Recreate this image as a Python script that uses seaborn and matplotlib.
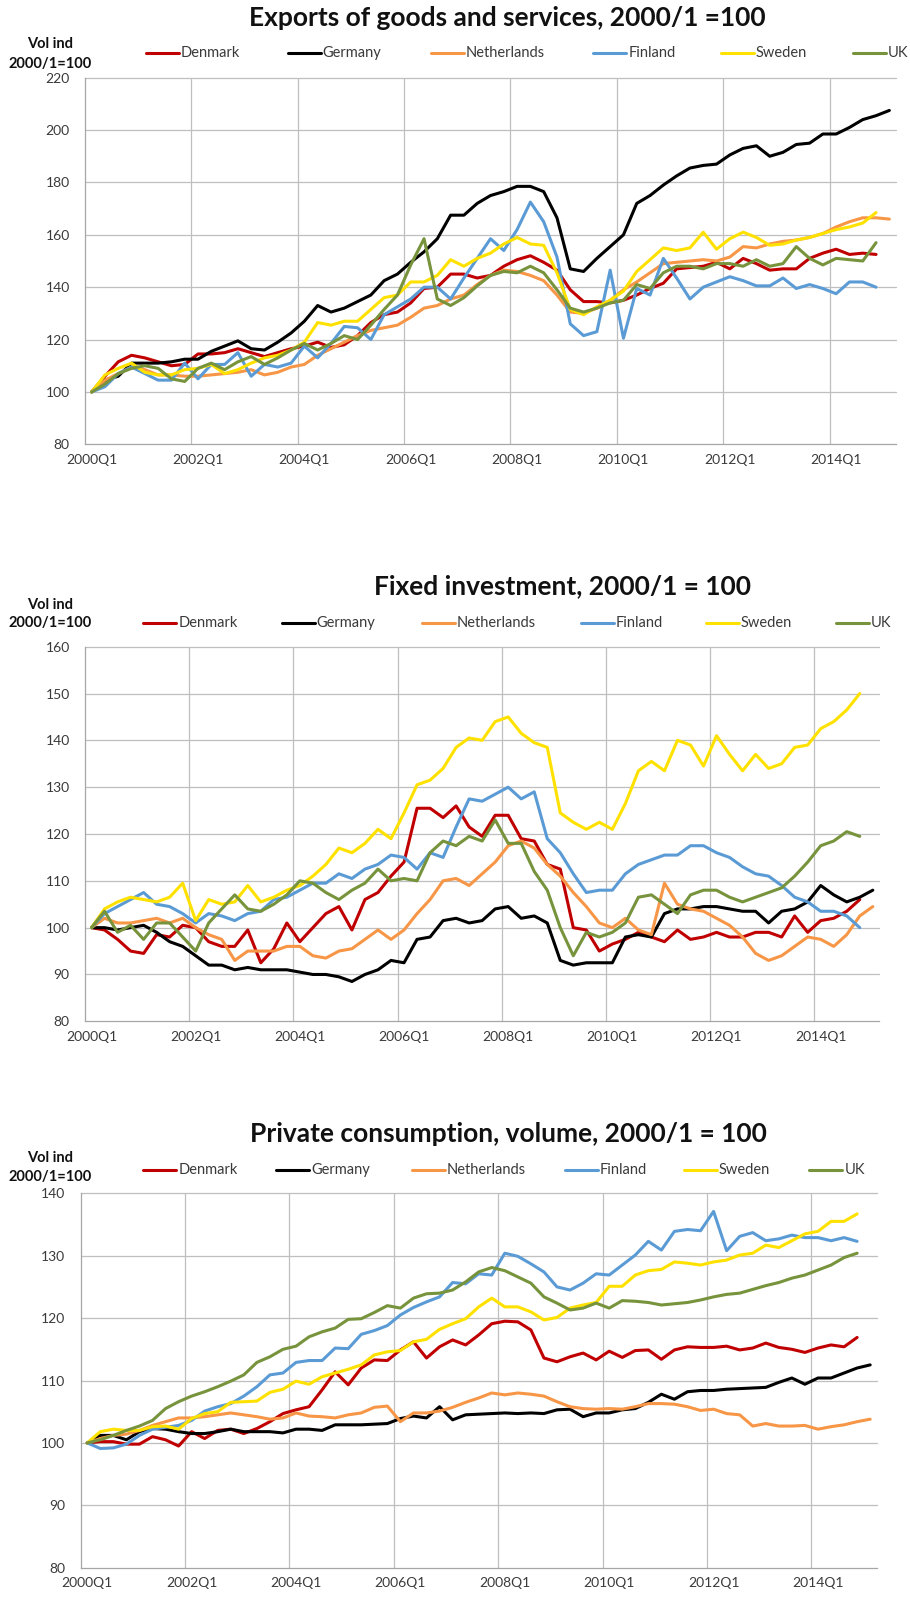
import matplotlib
matplotlib.use("Agg")
import matplotlib.pyplot as plt
import numpy as np
import pandas as pd
import seaborn as sns
from matplotlib.lines import Line2D

W, H = 910, 1599

COUNTRIES = ["Denmark", "Germany", "Netherlands", "Finland", "Sweden", "UK"]
PALETTE = {
    "Denmark": "#C00000",
    "Germany": "#000000",
    "Netherlands": "#F79646",
    "Finland": "#5B9BD5",
    "Sweden": "#FFE100",
    "UK": "#77933C",
}

QUARTERS = [f"{y}Q{q}" for y in range(2000, 2016) for q in range(1, 5)][:61]

# --- Exports of goods and services, 2000/1 = 100
EXP_DENMARK = [100, 106, 111.5, 114, 113, 111.5, 110, 110.5, 114.5, 114.5,
               115, 116.5, 115, 113.5, 115, 116.5, 117.5, 119, 117, 118,
               121.5, 126.5, 129.5, 130.5, 134, 139.5, 140, 145, 145, 143.5,
               144.5, 148, 150.5, 152, 149.5, 146.5, 139, 134.5, 134.5, 134,
               135, 137, 139.5, 141.5, 147, 147.5, 148, 149.5, 147, 151,
               149, 146.5, 147, 147, 151, 153, 154.5, 152.5, 153, 152.5]
EXP_GERMANY = [100, 104.5, 106, 111, 111, 111, 111.5, 112.5, 112.5, 115.5,
               117.5, 119.5, 116.5, 116, 119, 122.5, 127, 133, 130.5, 132,
               134.5, 137, 142.5, 145, 149.5, 153.5, 158.5, 167.5, 167.5, 172,
               175, 176.5, 178.5, 178.5, 176.5, 166.5, 147, 146, 151, 155.5,
               160, 172, 175, 179, 182.5, 185.5, 186.5, 187, 190.5, 193,
               194, 190, 191.5, 194.5, 195, 198.5, 198.5, 201, 204, 205.5,
               207.5]
EXP_NETHERLANDS = [100, 104.5, 107, 109.5, 108.5, 106.5, 106.5, 106, 106, 106.5,
                   107, 107.5, 108.5, 106.5, 107.5, 109.5, 110.5, 114, 116.5, 119,
                   121.5, 123.5, 124.5, 125.5, 128.5, 132, 133, 135.5, 137, 141,
                   144.5, 146.5, 146, 144.5, 142.5, 137, 130.5, 130, 132, 135,
                   139, 142, 145.5, 149, 149.5, 150, 150.5, 150, 151.5, 155.5,
                   155, 156.5, 157.5, 158, 159, 160.5, 163, 165, 166.5, 166.5,
                   166]
EXP_FINLAND = [100, 102, 107, 109.5, 107, 104.5, 104.5, 111, 105, 110.5,
               110.5, 115, 106, 110.5, 109.5, 111, 117.5, 113, 118.5, 125,
               124.5, 120, 129.5, 132.5, 135.5, 140, 140, 135.5, 143.5, 151,
               158.5, 154, 162, 172.5, 165, 151.5, 126, 121.5, 123, 146.5,
               120.5, 139.5, 137, 151, 143.5, 135.5, 140, 142, 144, 142.5,
               140.5, 140.5, 143.5, 139.5, 141, 139.5, 137.5, 142, 142, 140]
EXP_SWEDEN = [100, 106.5, 109, 111, 107.5, 106.5, 106.5, 108.5, 109, 110.5,
              107, 108.5, 111, 113, 114, 116, 119, 126.5, 125.5, 127,
              127, 131.5, 136, 137, 142, 142, 144.5, 150.5, 148, 151,
              153, 156.5, 159, 156.5, 156, 145.5, 131.5, 129.5, 132.5, 135,
              138.5, 146, 150.5, 155, 154, 155, 161, 154.5, 158.5, 161,
              159, 156, 156.5, 158, 159, 160.5, 162, 163, 164.5, 168.5]
EXP_UK = [100, 103, 107, 109, 110, 109, 105, 104, 109, 111,
          108.5, 111.5, 113.5, 110.5, 113, 116, 118.5, 116, 118.5, 121.5,
          120, 125.5, 131.5, 137, 148.5, 158.5, 135.5, 133, 136, 140.5,
          144.5, 146, 145.5, 148, 145.5, 139, 132, 130.5, 132, 134,
          135, 141, 139.5, 145.5, 148, 148, 147, 149, 149, 148,
          150.5, 148, 149, 155.5, 151, 148.5, 151, 150.5, 150, 157]

# --- Fixed investment, 2000/1 = 100
INV_DENMARK = [100, 99.5, 97.5, 95, 94.5, 98.5, 98, 100.5, 100, 97,
               96, 96, 99.5, 92.5, 95.5, 101, 97, 100, 103, 104.5,
               99.5, 106, 107.5, 111, 114, 125.5, 125.5, 123.5, 126, 121.5,
               119.5, 124, 124, 119, 118.5, 113.5, 112.5, 100, 99.5, 95,
               96.5, 97.5, 99, 98, 97, 99.5, 97.5, 98, 99, 98,
               98, 99, 99, 98, 102.5, 99, 101.5, 102, 103.5, 106]
INV_GERMANY = [100, 100, 99.5, 100, 100.5, 99, 97, 96, 94, 92,
               92, 91, 91.5, 91, 91, 91, 90.5, 90, 90, 89.5,
               88.5, 90, 91, 93, 92.5, 97.5, 98, 101.5, 102, 101,
               101.5, 104, 104.5, 102, 102.5, 101, 93, 92, 92.5, 92.5,
               92.5, 98, 98.5, 98, 103, 104, 104, 104.5, 104.5, 104,
               103.5, 103.5, 101, 103.5, 104, 105.5, 109, 107, 105.5, 106.5,
               108]
INV_NETHERLANDS = [100, 102, 101, 101, 101.5, 102, 101, 102, 100, 98.5,
                   97.5, 93, 95, 95, 95, 96, 96, 94, 93.5, 95,
                   95.5, 97.5, 99.5, 97.5, 99.5, 103, 106, 110, 110.5, 109,
                   111.5, 114, 117.5, 118.5, 117, 113.5, 111, 107.5, 104.5, 101,
                   100, 102, 99.5, 98.5, 109.5, 105, 104, 103.5, 102, 100.5,
                   98, 94.5, 93, 94, 96, 98, 97.5, 96, 98.5, 102.5,
                   104.5]
INV_FINLAND = [100, 103, 104.5, 106, 107.5, 105, 104.5, 103, 101, 103,
               102.5, 101.5, 103, 103.5, 106, 106.5, 108, 109.5, 109.5, 111.5,
               110.5, 112.5, 113.5, 115.5, 115, 112.5, 116, 115, 121.5, 127.5,
               127, 128.5, 130, 127.5, 129, 119, 116, 111.5, 107.5, 108,
               108, 111.5, 113.5, 114.5, 115.5, 115.5, 117.5, 117.5, 116, 115,
               113, 111.5, 111, 109, 106.5, 105.5, 103.5, 103.5, 102.5, 100]
INV_SWEDEN = [100, 104, 105.5, 106.5, 106, 105.5, 106.5, 109.5, 101.5, 106,
              105, 105.5, 109, 105.5, 106.5, 108, 109, 111, 113.5, 117,
              116, 118, 121, 119, 124.5, 130.5, 131.5, 134, 138.5, 140.5,
              140, 144, 145, 141.5, 139.5, 138.5, 124.5, 122.5, 121, 122.5,
              121, 126.5, 133.5, 135.5, 133.5, 140, 139, 134.5, 141, 137,
              133.5, 137, 134, 135, 138.5, 139, 142.5, 144, 146.5, 150]
INV_UK = [100, 103.5, 99, 100.5, 97.5, 101, 101, 98, 95, 101,
          104, 107, 104, 103.5, 105, 107, 110, 109.5, 107.5, 106,
          108, 109.5, 112.5, 110, 110.5, 110, 116, 118.5, 117.5, 119.5,
          118.5, 123, 118, 118, 112, 108, 100, 94, 99, 98,
          99, 101, 106.5, 107, 105, 103, 107, 108, 108, 106.5,
          105.5, 106.5, 107.5, 108.5, 111, 114, 117.5, 118.5, 120.5, 119.5]

# --- Private consumption, volume, 2000/1 = 100
CON_DENMARK = [100, 100.2, 100.2, 99.8, 99.8, 101, 100.5, 99.5, 101.8, 100.7,
               102, 102.2, 101.5, 102.3, 103.4, 104.7, 105.3, 105.8, 108.5, 111.4,
               109.3, 112, 113.3, 113.2, 114.9, 116.2, 113.6, 115.4, 116.5, 115.7,
               117.3, 119.1, 119.5, 119.4, 118.1, 113.6, 113, 113.8, 114.4, 113.3,
               114.7, 113.7, 114.8, 114.9, 113.4, 114.9, 115.4, 115.3, 115.3, 115.5,
               114.9, 115.2, 116, 115.3, 115, 114.5, 115.2, 115.7, 115.4, 116.9]
CON_GERMANY = [100, 101.2, 101.2, 100.5, 101.8, 102.3, 102.2, 101.8, 101.5, 101.5,
               101.8, 102.2, 101.8, 101.8, 101.8, 101.6, 102.2, 102.2, 102, 102.9,
               102.9, 102.9, 103, 103.1, 103.9, 104.3, 104, 105.8, 103.7, 104.5,
               104.6, 104.7, 104.8, 104.7, 104.8, 104.7, 105.3, 105.4, 104.2, 104.8,
               104.8, 105.3, 105.5, 106.5, 107.8, 107, 108.2, 108.4, 108.4, 108.6,
               108.7, 108.8, 108.9, 109.7, 110.4, 109.4, 110.4, 110.4, 111.2, 112,
               112.5]
CON_NETHERLANDS = [100, 100.7, 101.2, 101.4, 102, 102.8, 103.4, 104, 104, 104.2,
                   104.5, 104.8, 104.5, 104.2, 103.8, 104, 104.8, 104.3, 104.2, 104,
                   104.5, 104.8, 105.7, 105.9, 103.4, 104.8, 104.8, 105.1, 105.7, 106.5,
                   107.2, 108, 107.7, 108, 107.8, 107.5, 106.6, 105.8, 105.5, 105.4,
                   105.5, 105.4, 105.8, 106.3, 106.3, 106.2, 105.8, 105.2, 105.4, 104.7,
                   104.5, 102.7, 103.1, 102.7, 102.7, 102.8, 102.2, 102.6, 102.9, 103.4,
                   103.8]
CON_FINLAND = [100, 99.1, 99.2, 99.8, 101.2, 102.2, 102.5, 102.8, 103.6, 105.1,
               105.8, 106.3, 107.5, 109, 110.9, 111.2, 112.9, 113.2, 113.2, 115.2,
               115.1, 117.4, 118, 118.8, 120.5, 121.7, 122.6, 123.4, 125.7, 125.5,
               127.1, 126.9, 130.4, 129.9, 128.7, 127.4, 125, 124.5, 125.6, 127.1,
               126.9, 128.5, 130.1, 132.3, 130.9, 133.9, 134.2, 134, 137.1, 130.8,
               133.1, 133.7, 132.4, 132.7, 133.3, 132.9, 132.9, 132.4, 132.9, 132.3]
CON_SWEDEN = [100, 101.8, 102.2, 102, 102, 102.6, 102.7, 102.2, 103.9, 104.7,
              105, 106.5, 106.6, 106.7, 108.1, 108.6, 109.9, 109.4, 110.6, 111.2,
              111.8, 112.5, 114.1, 114.6, 114.8, 116.2, 116.6, 118.2, 119.1, 119.9,
              121.8, 123.2, 121.8, 121.8, 121, 119.7, 120.1, 121.6, 122.1, 122.5,
              125.1, 125.1, 126.9, 127.6, 127.8, 129, 128.8, 128.5, 129, 129.3,
              130.1, 130.4, 131.7, 131.3, 132.4, 133.5, 133.9, 135.5, 135.5, 136.7]
CON_UK = [100, 100.5, 101.2, 102, 102.7, 103.6, 105.5, 106.6, 107.5, 108.2,
          109, 109.9, 110.9, 112.9, 113.8, 115, 115.5, 117, 117.8, 118.4,
          119.8, 119.9, 120.9, 122, 121.6, 123.2, 123.9, 124, 124.5, 125.8,
          127.4, 128.1, 127.6, 126.6, 125.6, 123.4, 122.4, 121.3, 121.6, 122.4,
          121.6, 122.8, 122.7, 122.5, 122.1, 122.3, 122.5, 122.9, 123.4, 123.8,
          124, 124.6, 125.2, 125.7, 126.4, 126.9, 127.7, 128.5, 129.7, 130.4]

PANELS = [
    {
        "title": "Exports of goods and services, 2000/1 =100",
        "series": [EXP_DENMARK, EXP_GERMANY, EXP_NETHERLANDS, EXP_FINLAND, EXP_SWEDEN, EXP_UK],
        "ylim": (80, 220), "ystep": 20,
        "box": (85, 896, 77.7, 444.3),
        "title_xy": (507, 18),
        "ylabel_y": (44, 64),
        "legend_y": 53.3,
        "legend_x": [146, 287.7, 431, 593.3, 720.7, 852.7],
    },
    {
        "title": "Fixed investment, 2000/1 = 100",
        "series": [INV_DENMARK, INV_GERMANY, INV_NETHERLANDS, INV_FINLAND, INV_SWEDEN, INV_UK],
        "ylim": (80, 160), "ystep": 10,
        "box": (85, 879.3, 646.7, 1021.3),
        "title_xy": (562, 586),
        "ylabel_y": (605, 623.5),
        "legend_y": 622.7,
        "legend_x": [143.3, 281.7, 421.7, 581, 706, 836],
    },
    {
        "title": "Private consumption, volume, 2000/1 = 100",
        "series": [CON_DENMARK, CON_GERMANY, CON_NETHERLANDS, CON_FINLAND, CON_SWEDEN, CON_UK],
        "ylim": (80, 140), "ystep": 10,
        "box": (80.7, 876.7, 1193.3, 1567.7),
        "title_xy": (508, 1134),
        "ylabel_y": (1158.5, 1177.5),
        "legend_y": 1170,
        "legend_x": [143.3, 276, 411.7, 565, 684, 809.3],
    },
]

GRID = "#bfbfbf"
AXIS = "#a6a6a6"
TEXT = "#3a3a3a"


def fx(x):
    return x / W


def fy(y):
    return 1 - y / H


def panel_frame(series):
    frames = []
    for country, values in zip(COUNTRIES, series):
        frames.append(pd.DataFrame({
            "pos": np.arange(len(values)),
            "country": country,
            "value": values,
        }))
    return pd.concat(frames, ignore_index=True)


def draw_panel(fig, spec):
    left, right, top, bottom = spec["box"]
    ax = fig.add_axes([fx(left), fy(bottom), (right - left) / W, (bottom - top) / H])
    df = panel_frame(spec["series"])

    sns.lineplot(
        data=df, x="pos", y="value", hue="country", hue_order=COUNTRIES,
        palette=PALETTE, linewidth=2.2, estimator=None, sort=False,
        legend=False, ax=ax,
    )

    n = len(QUARTERS)
    ax.set_xlim(-0.5, n - 0.5)
    ymin, ymax = spec["ylim"]
    ax.set_ylim(ymin, ymax)
    ax.set_xlabel("")
    ax.set_ylabel("")

    major = np.arange(0, n - 1, 8)
    ax.set_xticks(major, [QUARTERS[i] for i in major])
    ax.set_xticks(np.arange(-0.5, n - 1, 4), minor=True)
    ax.set_yticks(np.arange(ymin, ymax + 0.1, spec["ystep"]))
    ax.tick_params(axis="x", which="major", length=0, pad=7, labelsize=10, labelcolor=TEXT)
    ax.tick_params(axis="x", which="minor", direction="in", length=3, width=0.8, color=AXIS)
    ax.tick_params(axis="y", length=0, pad=11, labelsize=10, labelcolor=TEXT)

    ax.grid(False)
    for yv in np.arange(ymin + spec["ystep"], ymax + 0.1, spec["ystep"]):
        ax.axhline(yv, color=GRID, linewidth=0.9, zorder=0, clip_on=False)
    for xv in np.arange(7.5, n - 1, 8):
        ax.axvline(xv, color=GRID, linewidth=0.9, zorder=0)

    for side in ("top", "right"):
        ax.spines[side].set_visible(False)
    for side in ("left", "bottom"):
        ax.spines[side].set_color(AXIS)
        ax.spines[side].set_linewidth(0.9)

    # title, axis caption and legend row
    tx, ty = spec["title_xy"]
    fig.text(fx(tx), fy(ty), spec["title"], ha="center", va="center",
             fontsize=19, fontweight="bold", color="#111111")
    y1, y2 = spec["ylabel_y"]
    fig.text(fx(50), fy(y1), "Vol ind", ha="center", va="center",
             fontsize=10.5, fontweight="bold", color="#111111")
    fig.text(fx(50), fy(y2), "2000/1=100", ha="center", va="center",
             fontsize=10.5, fontweight="bold", color="#111111")

    ly = spec["legend_y"]
    for country, x0 in zip(COUNTRIES, spec["legend_x"]):
        fig.add_artist(Line2D([fx(x0), fx(x0 + 33)], [fy(ly), fy(ly)],
                              color=PALETTE[country], linewidth=2.2,
                              transform=fig.transFigure))
        fig.text(fx(x0 + 35), fy(ly), country, ha="left", va="center",
                 fontsize=10.5, color=TEXT)


sns.set_theme(style="white")
plt.rcParams["font.family"] = ["Lato", "DejaVu Sans"]

fig = plt.figure(figsize=(W / 100, H / 100), dpi=100)
for spec in PANELS:
    draw_panel(fig, spec)

fig.savefig("out.png", dpi=100, facecolor="white")
